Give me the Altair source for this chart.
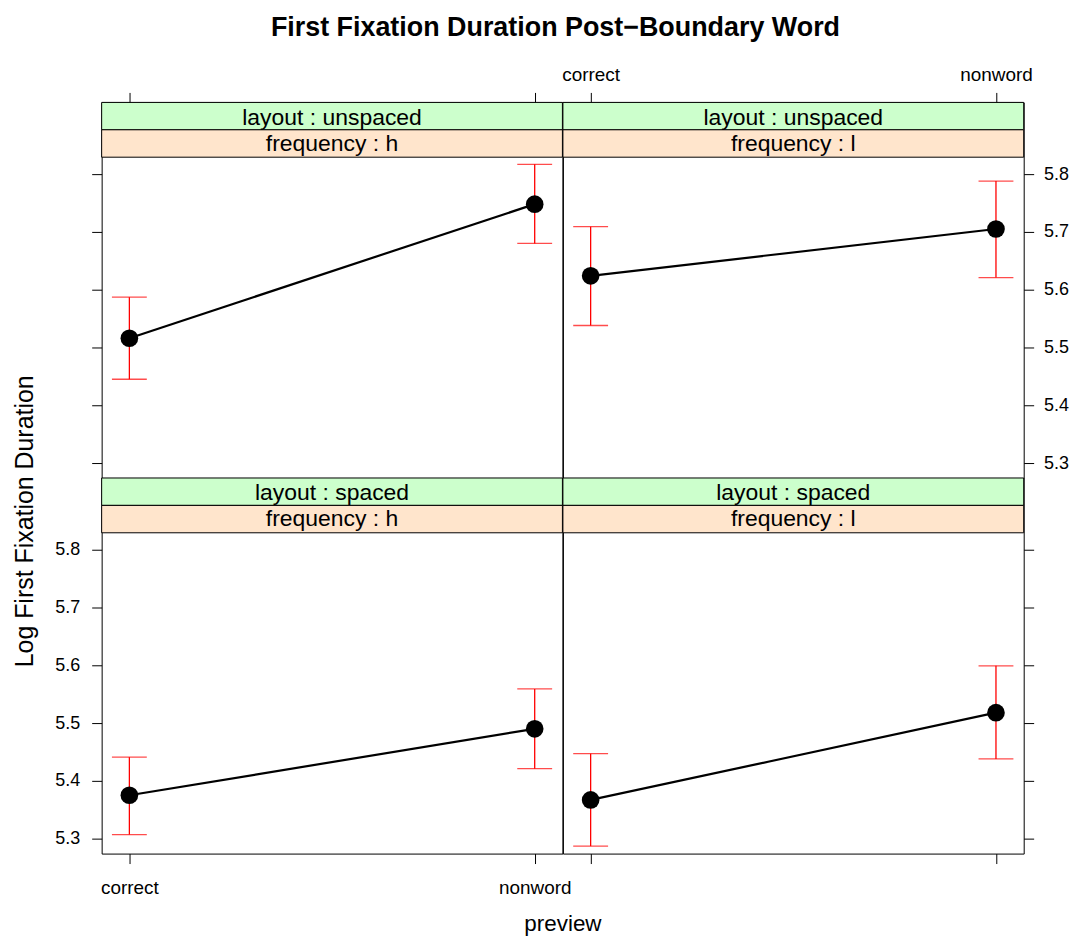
import altair as alt
import pandas as pd

# ---------------- data ----------------
preview = ["correct", "nonword"]
layout_levels = ["unspaced", "unspaced", "spaced", "spaced"]
frequency_levels = ["h", "l", "h", "l"]
mean_correct = [5.516, 5.624, 5.375, 5.367]
mean_nonword = [5.748, 5.705, 5.490, 5.518]
lower_correct = [5.445, 5.538, 5.307, 5.287]
upper_correct = [5.587, 5.709, 5.441, 5.447]
lower_nonword = [5.680, 5.621, 5.421, 5.438]
upper_nonword = [5.817, 5.788, 5.559, 5.599]
y_ticks = [5.3, 5.4, 5.5, 5.6, 5.7, 5.8]

title_text = "First Fixation Duration Post\u2212Boundary Word"
x_title = "preview"
y_title = "Log First Fixation Duration"

# ---------------- styling ----------------
FONT = "Liberation Sans"
W, H = 462.5, 377
STRIP = 27.5
Y_DOMAIN = [5.2741, 5.9241]
GREEN = "#CCFFCC"
ORANGE = "#FFE5CC"
XTICK_FS = 19
YTICK_FS = 18
STRIP_FS = 23


def axis_x(orient, labels):
    return alt.Axis(orient=orient, labels=labels, ticks=True, domain=False, grid=False,
                    tickSize=10, tickColor="black", tickWidth=1, labelFont=FONT,
                    labelFontSize=XTICK_FS, labelColor="black", labelAngle=0,
                    labelPadding=15 if orient == "bottom" else 8, title=None)


def axis_y(orient, labels):
    return alt.Axis(orient=orient, labels=labels, ticks=True, domain=False, grid=False,
                    values=y_ticks, format=".1f",
                    tickSize=10, tickColor="black", tickWidth=1, labelFont=FONT,
                    labelFontSize=YTICK_FS, labelColor="black",
                    labelPadding=12 if orient == "left" else 10, title=None)


def panel(i, xorient, xlabels, yorient, ylabels, extras=()):
    df = pd.DataFrame({
        "preview": preview,
        "mean": [mean_correct[i], mean_nonword[i]],
        "lo": [lower_correct[i], lower_nonword[i]],
        "hi": [upper_correct[i], upper_nonword[i]],
    })
    strip_df = pd.DataFrame({
        "layout": ["layout : " + layout_levels[i]],
        "freq": ["frequency : " + frequency_levels[i]],
    })
    xs = alt.Scale(type="point", domain=preview, padding=0.0684)
    ys = alt.Scale(domain=Y_DOMAIN, nice=False, zero=False)

    sbase = alt.Chart(strip_df)
    green = sbase.mark_rect(fill=GREEN, stroke="black", strokeWidth=1).encode(
        x=alt.value(0), x2=alt.value(W), y=alt.value(0), y2=alt.value(STRIP))
    orange = sbase.mark_rect(fill=ORANGE, stroke="black", strokeWidth=1).encode(
        x=alt.value(0), x2=alt.value(W), y=alt.value(STRIP), y2=alt.value(2 * STRIP))
    t1 = sbase.mark_text(font=FONT, fontSize=STRIP_FS, color="black", baseline="middle").encode(
        x=alt.value(W / 2), y=alt.value(15.3), text="layout:N")
    t2 = sbase.mark_text(font=FONT, fontSize=STRIP_FS, color="black", baseline="middle").encode(
        x=alt.value(W / 2), y=alt.value(41.4), text="freq:N")

    base = alt.Chart(df)
    x_enc = alt.X("preview:N", scale=xs, sort=preview, axis=axis_x(xorient, xlabels))
    y_enc = alt.Y("lo:Q", scale=ys, axis=axis_y(yorient, ylabels))
    bars = base.mark_rule(color="red", strokeWidth=1.3).encode(x=x_enc, y=y_enc, y2="hi:Q")
    cap_lo = base.mark_tick(color="red", orient="horizontal", size=35, thickness=1.3).encode(
        x=alt.X("preview:N", scale=xs, sort=preview), y=alt.Y("lo:Q", scale=ys))
    cap_hi = base.mark_tick(color="red", orient="horizontal", size=35, thickness=1.3).encode(
        x=alt.X("preview:N", scale=xs, sort=preview), y=alt.Y("hi:Q", scale=ys))
    line = base.mark_line(color="black", strokeWidth=2.2).encode(
        x=alt.X("preview:N", scale=xs, sort=preview), y=alt.Y("mean:Q", scale=ys))
    pts = base.mark_circle(color="black", opacity=1, size=314).encode(
        x=alt.X("preview:N", scale=xs, sort=preview), y=alt.Y("mean:Q", scale=ys))

    layers = [green, orange, t1, t2, bars, cap_lo, cap_hi, line, pts] + list(extras)
    return alt.layer(*layers).properties(width=W, height=H)


one = pd.DataFrame({"k": [0]})
main_title = alt.Chart(one).mark_text(text=title_text, font=FONT, fontSize=27, fontWeight="bold",
                                       color="black", baseline="middle", align="center").encode(
    x=alt.value(455.5), y=alt.value(-75))
ytitle = alt.Chart(one).mark_text(text=y_title, font=FONT, fontSize=25, color="black",
                                   baseline="middle", align="center", angle=270).encode(
    x=alt.value(-77), y=alt.value(43.5))
xtitle = alt.Chart(one).mark_text(text=x_title, font=FONT, fontSize=22.5, color="black",
                                   baseline="alphabetic", align="center").encode(
    x=alt.value(463), y=alt.value(455))

p11 = panel(0, "top", False, "left", False, extras=[main_title])
p12 = panel(1, "top", True, "right", True)
p21 = panel(2, "bottom", True, "left", True, extras=[ytitle, xtitle])
p22 = panel(3, "bottom", False, "right", False)

chart = alt.concat(p11, p12, p21, p22, columns=2, spacing=0, bounds="flush").properties(
    padding={"left": 4, "top": 3, "right": 5, "bottom": 5},
    background="white",
).configure_view(stroke="black", strokeWidth=1)

chart.save("out.html", embed_options={"renderer": "svg", "actions": False})
